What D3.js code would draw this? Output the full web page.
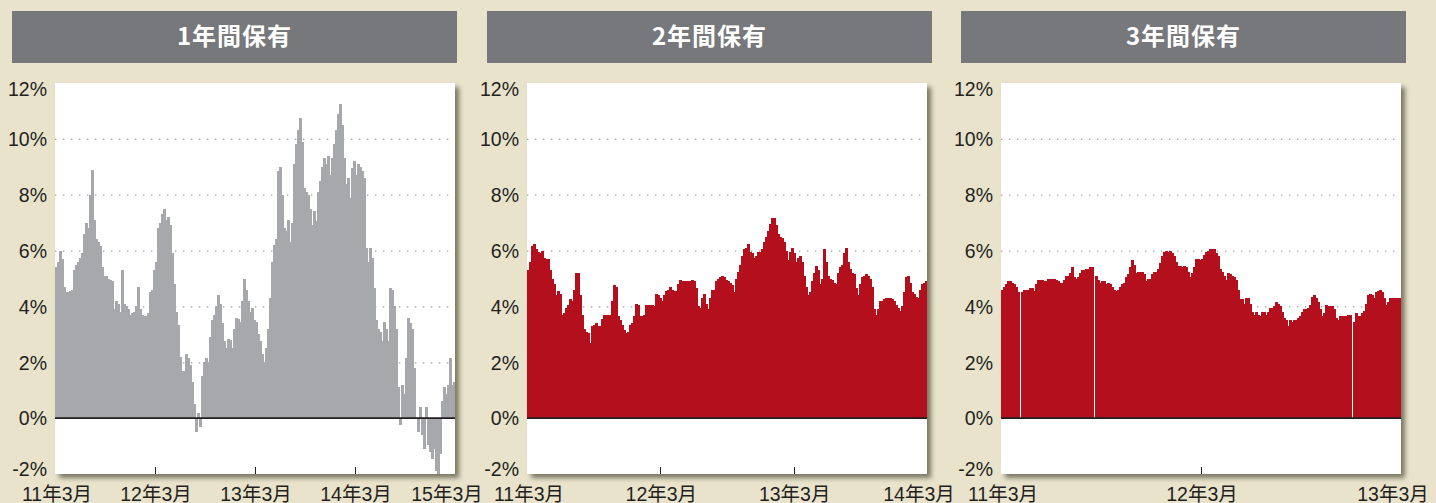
<!DOCTYPE html>
<html>
<head>
<meta charset="utf-8">
<script src="https://cdn.jsdelivr.net/npm/d3@7"></script>
<style>
  body { margin: 0; background: #e9e3cc; }
  svg { display: block; }
</style>
</head>
<body>
<svg width="1436" height="503"></svg>
<script>
'use strict';
const svg = d3.select('svg');

// data (returns in %, one value per ~2px step)
const panel_titles = ['1年間保有', '2年間保有', '3年間保有'];
const x_labels_1y = ['11年3月', '12年3月', '13年3月', '14年3月', '15年3月'];
const x_labels_2y = ['11年3月', '12年3月', '13年3月', '14年3月'];
const x_labels_3y = ['11年3月', '12年3月', '13年3月'];
const y_ticks = [-2, 0, 2, 4, 6, 8, 10, 12];

const returns_1y = [
  5.4, 5.6, 6.0, 5.7, 4.7, 4.5, 4.5, 4.55, 4.6, 5.3,
  5.5, 5.6, 5.75, 5.9, 6.6, 7.0, 6.8, 8.0, 8.9, 7.1,
  6.4, 6.3, 6.15, 5.4, 5.1, 5.1, 5.0, 4.95, 4.9, 3.9,
  4.2, 4.1, 3.8, 5.3, 4.1, 4.0, 3.9, 3.7, 3.75, 3.8,
  4.0, 4.7, 3.9, 3.7, 3.65, 3.65, 3.75, 4.5, 4.6, 5.3,
  5.6, 6.8, 7.0, 7.3, 7.5, 7.1, 7.2, 6.9, 5.9, 4.8,
  3.8, 3.35, 2.2, 1.7, 1.7, 2.3, 2.15, 1.9, 1.3, 0.5,
  -0.5, 0.2, -0.3, 1.5, 2.0, 2.15, 2.0, 2.9, 3.5, 3.7,
  4.0, 4.4, 4.1, 3.4, 2.75, 2.5, 2.85, 2.8, 2.5, 3.2,
  3.6, 3.55, 3.45, 4.2, 5.0, 4.6, 4.2, 3.8, 3.95, 3.5,
  3.45, 3.0, 2.75, 2.3, 2.0, 2.5, 3.2, 4.3, 5.6, 6.2,
  6.4, 8.85, 9.0, 8.0, 6.8, 6.7, 7.1, 6.3, 7.0, 9.1,
  9.8, 10.3, 10.75, 9.9, 8.25, 8.1, 8.0, 7.5, 6.9, 7.4,
  7.05, 8.1, 8.5, 9.0, 9.3, 9.1, 9.4, 8.7, 9.3, 9.8,
  10.3, 10.9, 11.25, 10.5, 9.3, 8.4, 8.6, 7.9, 8.95, 9.2,
  8.7, 9.1, 9.0, 8.85, 8.6, 6.1, 5.6, 6.1, 5.75, 4.65,
  3.5, 3.2, 3.1, 2.75, 3.45, 3.2, 2.75, 4.65, 4.6, 4.0,
  3.2, 1.1, -0.25, 1.2, 0.85, 2.15, 3.6, 3.4, 3.2, 1.8,
  0.0, -0.5, 0.4, -0.6, -1.1, 0.4, -0.95, -1.2, -1.45, -1.1,
  -1.9, -2.0, -1.3, 0.6, 1.1, 0.85, 1.2, 2.15, 1.2, 1.3
];

const returns_2y = [
  5.3, 5.6, 6.15, 6.25, 6.05, 5.95, 5.9, 6.0, 5.75, 5.7,
  5.7, 5.3, 5.0, 4.8, 4.4, 4.55, 4.45, 3.7, 3.75, 3.95,
  4.05, 4.25, 4.2, 4.6, 5.2, 5.2, 4.4, 3.7, 3.2, 3.1,
  3.05, 2.7, 3.3, 3.35, 3.4, 3.3, 3.3, 3.55, 3.7, 3.7,
  3.7, 3.7, 4.2, 4.75, 4.7, 3.65, 3.5, 3.35, 3.15, 3.05,
  3.1, 3.35, 3.4, 3.65, 4.1, 4.05, 3.65, 3.65, 3.7, 4.05,
  4.05, 4.05, 4.05, 4.0, 4.45, 4.4, 4.3, 4.2, 4.4, 4.55,
  4.6, 4.7, 4.6, 4.55, 4.55, 4.8, 4.95, 4.9, 4.9, 4.9,
  4.9, 4.9, 4.95, 4.9, 4.65, 4.0, 3.95, 4.3, 4.45, 4.1,
  3.9, 4.3, 4.6, 4.6, 4.9, 5.0, 5.05, 5.1, 5.05, 4.95,
  4.9, 4.85, 4.75, 4.5, 5.0, 5.25, 5.5, 5.8, 6.05, 6.1,
  6.25, 5.95, 5.9, 5.75, 5.8, 5.95, 5.95, 6.05, 6.3, 6.5,
  6.7, 6.95, 7.15, 7.15, 6.9, 6.6, 6.5, 6.45, 6.3, 6.0,
  5.65, 5.95, 6.1, 5.9, 5.6, 5.75, 5.8, 5.6, 5.1, 4.7,
  4.4, 4.5, 4.9, 5.2, 5.45, 5.3, 4.8, 5.0, 6.05, 5.6,
  5.1, 5.0, 4.95, 4.85, 4.8, 5.2, 5.4, 5.5, 5.9, 6.1,
  5.6, 5.35, 5.2, 5.15, 4.65, 4.4, 4.8, 5.05, 5.1, 5.15,
  5.1, 5.0, 4.7, 3.9, 3.7, 3.9, 4.2, 4.2, 4.25, 4.3,
  4.3, 4.3, 4.25, 4.2, 4.05, 3.95, 3.85, 4.0, 4.5, 5.05,
  5.1, 4.85, 4.5, 4.45, 4.35, 4.3, 4.6, 4.8, 4.85, 4.9
];

// null = day without a value (thin white gap)
const returns_3y = [
  4.6, 4.7, 4.8, 4.9, 4.9, 4.85, 4.8, 4.7, 4.5, null,
  4.5, 4.6, 4.6, 4.6, 4.65, 4.65, 4.55, 4.8, 4.95, 4.95,
  4.95, 4.9, 4.9, 5.0, 5.0, 5.0, 5.0, 4.95, 4.9, 4.85,
  4.85, 4.95, 5.1, 5.1, 5.2, 5.4, 5.05, 5.0, 5.05, 5.2,
  5.3, 5.3, 5.35, 5.35, 5.4, 5.4, null, 5.1, 4.95, 4.85,
  4.9, 4.9, 4.8, 4.85, 4.8, 4.7, 4.6, 4.55, 4.6, 4.7,
  4.8, 4.85, 5.05, 5.15, 5.4, 5.65, 5.5, 5.2, 5.25, 5.25,
  5.25, 5.15, 4.9, 5.0, 5.0, 5.15, 5.25, 5.25, 5.35, 5.55,
  5.8, 5.95, 6.0, 5.95, 6.0, 5.9, 5.8, 5.6, 5.45, 5.45,
  5.4, 5.45, 5.4, 5.25, 5.05, 5.2, 5.4, 5.7, 5.7, 5.65,
  5.7, 5.85, 5.95, 6.0, 6.05, 6.05, 6.05, 5.9, 5.8, 5.35,
  5.25, 5.1, 4.95, 5.2, 5.15, 5.1, 5.05, 4.95, 4.6, 4.25,
  4.25, 4.1, 4.3, 4.3, 4.1, 3.8, 3.7, 3.8, 3.7, 3.65,
  3.8, 3.8, 3.7, 3.8, 3.95, 3.95, 4.0, 4.15, 4.1, 4.0,
  3.8, 3.6, 3.5, 3.3, 3.5, 3.45, 3.5, 3.5, 3.6, 3.65,
  3.8, 3.9, 3.9, 3.95, 4.05, 4.35, 4.4, 4.3, 4.15, 3.9,
  3.65, 3.75, 4.05, 4.0, 4.0, 4.0, 3.9, 3.6, 3.5, 3.65,
  3.65, 3.65, 3.65, 3.7, 3.7, null, 3.45, 3.75, 3.65, 3.65,
  3.75, 3.85, 4.1, 4.4, 4.45, 4.4, 4.3, 4.5, 4.55, 4.6,
  4.5, 4.3, 4.05, 4.15, 4.3, 4.3, 4.3, 4.3, 4.3, 4.3
];

const panel_series = [returns_1y, returns_2y, returns_3y];
const panel_x_labels = [x_labels_1y, x_labels_2y, x_labels_3y];
const panel_colors = ['#a7a8ab', '#b30f1d', '#b30f1d'];

// layout
const plot_lefts = [55, 527, 1001];
const header_lefts = [12, 487, 961];
const header_width = 445;
const plot_width = 400;
const plot_top = 83;
const plot_height = 391;

const font = '"Liberation Sans", Arial, "Noto Sans CJK JP", sans-serif';

// shadow under the white plot boxes
const defs = svg.append('defs');
const shadow = defs.append('filter')
  .attr('id', 'box-shadow')
  .attr('x', '-5%').attr('y', '-5%')
  .attr('width', '115%').attr('height', '115%');
shadow.append('feDropShadow')
  .attr('dx', 4).attr('dy', 4)
  .attr('stdDeviation', 2.5)
  .attr('flood-color', '#55523d')
  .attr('flood-opacity', 0.75);

defs.append('clipPath')
  .attr('id', 'plot-clip')
  .append('rect')
    .attr('width', plot_width)
    .attr('height', plot_height);

const y_scale = d3.scaleLinear()
  .domain([-2, 12])
  .range([plot_height, 0]);

panel_series.forEach((series, p) => {
  //header
  const header = svg.append('g')
    .attr('transform', `translate(${header_lefts[p]},11)`);
  header.append('rect')
    .attr('width', header_width)
    .attr('height', 52)
    .attr('fill', '#77787c');
  header.append('text')
    .attr('x', header_width / 2)
    .attr('y', 26)
    .attr('dy', '0.35em')
    .attr('text-anchor', 'middle')
    .attr('fill', '#fff')
    .attr('font-family', '"Noto Sans CJK JP", "Liberation Sans", sans-serif')
    .attr('font-weight', 'bold')
    .attr('font-size', 24)
    .attr('letter-spacing', 1)
    .text(panel_titles[p]);

  const chart_g = svg.append('g')
    .attr('transform', `translate(${plot_lefts[p]},${plot_top})`);

  chart_g.append('rect')
    .attr('width', plot_width)
    .attr('height', plot_height)
    .attr('fill', '#fff')
    .attr('filter', 'url(#box-shadow)');

  //dotted grid lines
  chart_g.append('g')
    .selectAll('line')
    .data(y_ticks.filter(d => d > 0 && d < 12))
    .enter()
    .append('line')
      .attr('x1', 0)
      .attr('x2', plot_width)
      .attr('y1', d => y_scale(d) + 0.5)
      .attr('y2', d => y_scale(d) + 0.5)
      .attr('stroke', '#9b9b9b')
      .attr('stroke-width', 1.3)
      .attr('stroke-dasharray', '1.3,6.7');

  //bars (1px overlap so a missing day leaves a 1px gap)
  const x_scale = d3.scaleBand()
    .domain(d3.range(series.length))
    .range([0, plot_width])
    .padding(0);

  chart_g.append('g')
    .attr('clip-path', 'url(#plot-clip)')
    .attr('shape-rendering', 'crispEdges')
    .selectAll('rect')
    .data(series.map((v, i) => ({i, v})).filter(d => d.v !== null))
    .enter()
    .append('rect')
      .attr('x', d => x_scale(d.i))
      .attr('width', x_scale.bandwidth() + 1)
      .attr('y', d => y_scale(Math.max(0, d.v)))
      .attr('height', d => Math.abs(y_scale(d.v) - y_scale(0)))
      .attr('fill', panel_colors[p]);

  //zero line
  chart_g.append('line')
    .attr('x1', 0)
    .attr('x2', plot_width)
    .attr('y1', y_scale(0))
    .attr('y2', y_scale(0))
    .attr('stroke', '#231f20')
    .attr('stroke-width', 1.6);

  //left axis labels (end labels pulled inside the box)
  chart_g.append('g')
    .selectAll('text')
    .data(y_ticks)
    .enter()
    .append('text')
      .attr('x', -8)
      .attr('y', d => {
        if (d === 12) return y_scale(d) + 6.5;
        if (d === -2) return y_scale(d) - 5;
        return y_scale(d) + 0.5;
      })
      .attr('dy', '0.35em')
      .attr('text-anchor', 'end')
      .attr('fill', '#231f20')
      .attr('font-family', font)
      .attr('font-size', 19.5)
      .text(d => `${d}%`);

  //bottom axis: ticks inside the box, labels below
  const labels = panel_x_labels[p];
  const tick_scale = d3.scalePoint()
    .domain(labels)
    .range([0, plot_width]);

  chart_g.append('g')
    .selectAll('line')
    .data(labels.slice(1, -1))
    .enter()
    .append('line')
      .attr('x1', d => Math.round(tick_scale(d)) + 0.5)
      .attr('x2', d => Math.round(tick_scale(d)) + 0.5)
      .attr('y1', plot_height)
      .attr('y2', plot_height - 7)
      .attr('stroke', '#231f20')
      .attr('stroke-width', 1);

  chart_g.append('g')
    .selectAll('text')
    .data(labels)
    .enter()
    .append('text')
      .attr('x', (d, i) => {
        const x = tick_scale(d);
        if (i === 0) return x + 2;
        if (i === labels.length - 1) return x - 8;
        return x + 1;
      })
      .attr('y', 500.5 - plot_top)
      .attr('text-anchor', 'middle')
      .attr('fill', '#231f20')
      .attr('font-family', font)
      .attr('font-size', 19.5)
      .text(d => d);
});
</script>
</body>
</html>
